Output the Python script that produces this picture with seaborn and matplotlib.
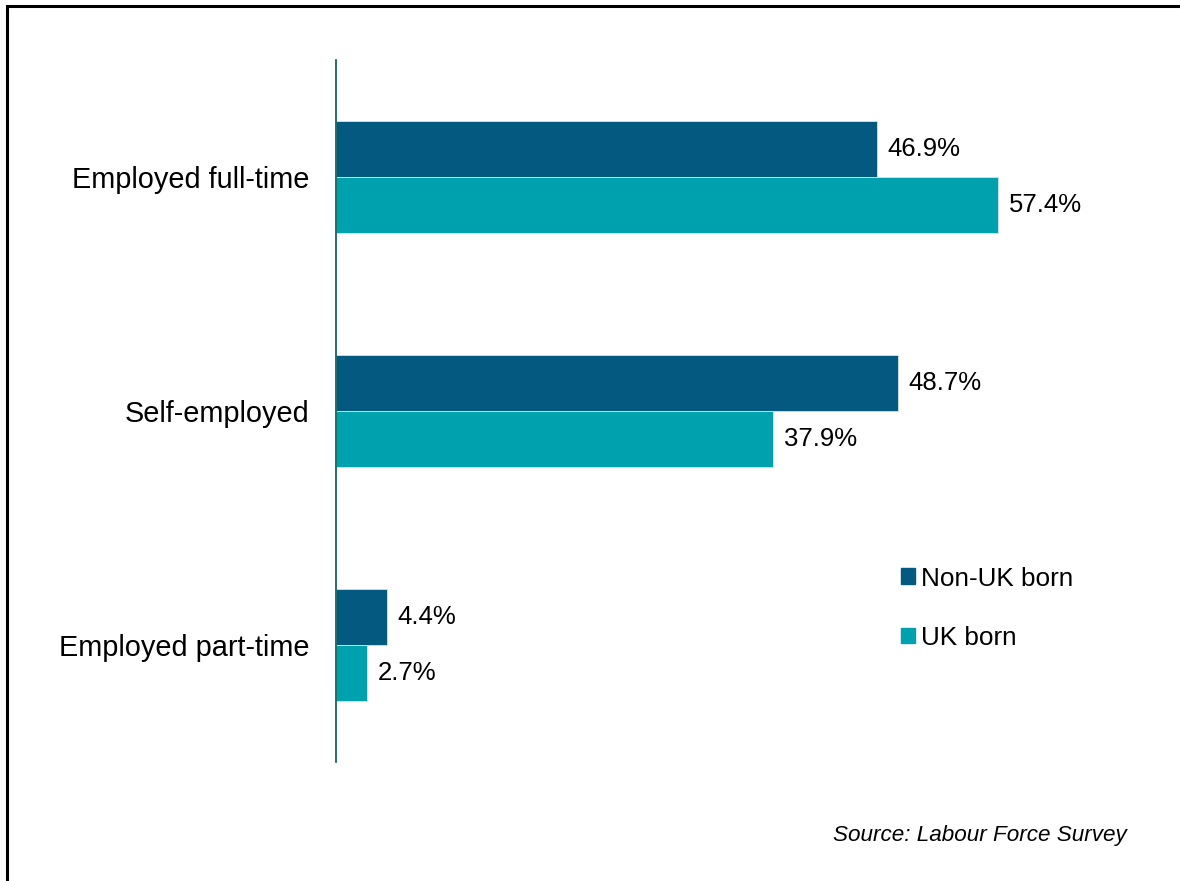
import pandas as pd
import matplotlib.pyplot as plt
import seaborn as sns
from matplotlib.patches import Rectangle

# dados
categorias = ["Employed full-time", "Self-employed", "Employed part-time"]
grupos = ["Non-UK born", "UK born"]
non_uk = [46.9, 48.7, 4.4]
uk = [57.4, 37.9, 2.7]
fonte = "Source: Labour Force Survey"

cores = {"Non-UK born": "#03597F", "UK born": "#00A1AF"}

df = pd.DataFrame({
    "categoria": categorias * 2,
    "grupo": [grupos[0]] * 3 + [grupos[1]] * 3,
    "valor": non_uk + uk,
})

sns.set_theme(style="white")
plt.rcParams['font.family'] = ['Liberation Sans', 'DejaVu Sans']

fig = plt.figure(figsize=(11.8, 8.81), dpi=100)
ax = fig.add_axes([336 / 1180, 1 - 762 / 881, (1130 - 336) / 1180, 702 / 881])

sns.barplot(data=df, y="categoria", x="valor", hue="grupo", order=categorias,
            hue_order=grupos, palette=cores, orient="h", width=0.48,
            saturation=1, edgecolor="#cfe6ee", linewidth=0.6, ax=ax,
            legend=True)

for cont in ax.containers:
    ax.bar_label(cont, labels=[f"{v:.1f}%" for v in cont.datavalues],
                 padding=8, fontsize=18.5, color="black")

ax.set_xlim(0, (1130 - 336) / 11.53)
ax.set_ylim(2.5, -0.5)
ax.set_xlabel("")
ax.set_ylabel("")
ax.set_xticks([])
ax.tick_params(axis="y", length=0, pad=19, labelsize=20.8, labelcolor="black")
for lado in ["top", "right", "bottom"]:
    ax.spines[lado].set_visible(False)
ax.spines["left"].set_color("#00584A")
ax.spines["left"].set_linewidth(1.2)

ax.legend_.remove()
handles = [Rectangle((0, 0), 1, 1, color=cores[g]) for g in grupos]
fig.legend(handles, grupos, loc="upper left",
           bbox_to_anchor=(877 / 1180, 1 - 543 / 881), frameon=False,
           fontsize=18.8, labelcolor="black", handlelength=0.55,
           handleheight=0.55, handletextpad=0.25, labelspacing=1.35)

fig.text(1127 / 1180, 1 - 836 / 881, fonte, ha="right", va="center",
         fontsize=16.2, style="italic", color="black")

# moldura (só topo e esquerda visíveis)
fig.patches.append(Rectangle((7 / 1180, -0.1), 1.2, 1 - 6 / 881 + 0.1,
                             transform=fig.transFigure, fill=False,
                             edgecolor="black", linewidth=2.2))

fig.savefig("out.png", dpi=100)
